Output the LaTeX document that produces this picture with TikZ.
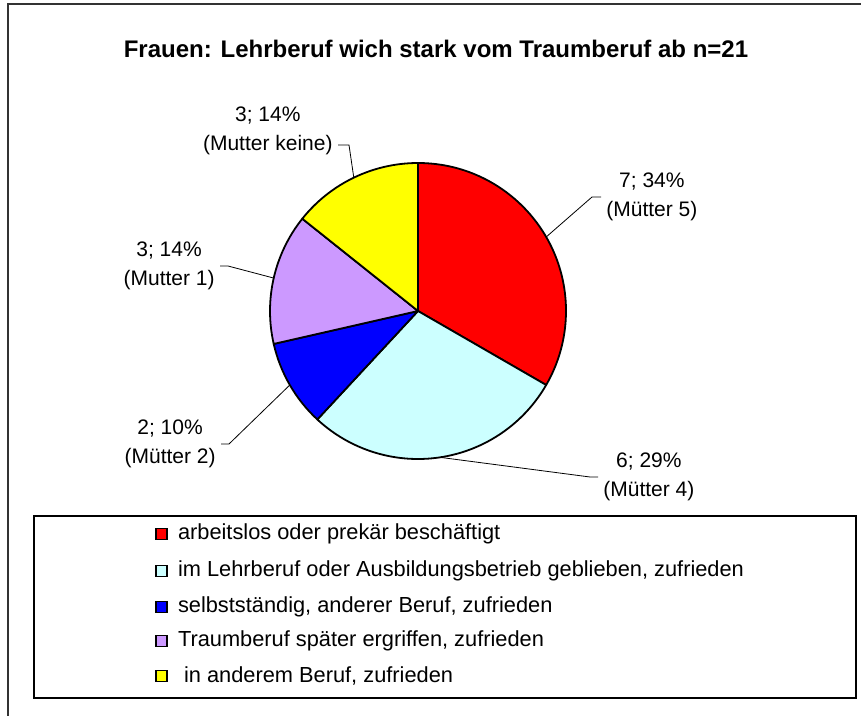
\documentclass[tikz,border=0pt]{standalone}
\usepackage{fontspec}
\setmainfont{Liberation Sans}
\usetikzlibrary{positioning}
\definecolor{sliceRed}{RGB}{255,0,0}
\definecolor{sliceCyan}{RGB}{204,255,255}
\definecolor{sliceBlue}{RGB}{0,0,255}
\definecolor{sliceLilac}{RGB}{204,153,255}
\definecolor{sliceYellow}{RGB}{255,255,0}
\tikzset{
  slice/.style={draw=black,line width=0.9pt,line join=round},
  leader/.style={draw=black,line width=0.4pt},
  pielabel/.style={font=\fontsize{10.5}{14.5}\selectfont,align=center,inner sep=2.5pt},
  legkey/.style={draw=black,line width=0.6pt,minimum size=5.5pt,inner sep=0pt},
  legtext/.style={font=\fontsize{10.9}{13}\selectfont,anchor=west,inner sep=0pt}
}
\begin{document}
\begin{tikzpicture}[x=0.5pt,y=-0.5pt]
        \useasboundingbox (0,0) rectangle (861,716);
        \clip (0,0) rectangle (861,716);
        \fill[white] (0,0) rectangle (861,716);
        \draw[black!80,line width=0.75pt] (8,4) rectangle (880,740);
        \node[font=\bfseries\fontsize{12}{14}\selectfont] (title) at (436,49)
          {Frauen: Lehrberuf wich stark vom Traumberuf ab n=21};
        % pie, clockwise from the top
        \coordinate (mid) at (418,311);
        \foreach \a/\b/\c in {90/-30/sliceRed, -30/-132.857/sliceCyan,
            -132.857/-167.143/sliceBlue, -167.143/-218.571/sliceLilac,
            -218.571/-270/sliceYellow}
          \filldraw[slice,fill=\c] (mid) -- ++(\a:74pt)
            arc[start angle=\a,end angle=\b,radius=74pt] -- cycle;
        \path (mid) ++(30:74pt) coordinate (p1)
              (mid) ++(-81.43:74pt) coordinate (p2)
              (mid) ++(-150:74pt) coordinate (p3)
              (mid) ++(167.14:74pt) coordinate (p4)
              (mid) ++(115.71:74pt) coordinate (p5);
        \coordinate (k1) at (592,197);
        \coordinate (k2) at (590,477);
        \coordinate (k3) at (229,444);
        \coordinate (k4) at (228,266);
        \coordinate (k5) at (349,145);
        \node[pielabel,anchor=west] (lab1) at (601,197) {7; 34\%\\(Mütter 5)};
        \node[pielabel,anchor=west] (lab2) at (598,477) {6; 29\%\\(Mütter 4)};
        \node[pielabel,anchor=east] (lab3) at (221,444) {2; 10\%\\(Mütter 2)};
        \node[pielabel,anchor=east] (lab4) at (220,266) {3; 14\%\\(Mutter 1)};
        \node[pielabel,anchor=east] (lab5) at (338,131) {3; 14\%\\(Mutter keine)};
        \draw[leader] (p1) -- (k1) -- (lab1.west);
        \draw[leader] (p2) -- (k2) -- (lab2.west);
        \draw[leader] (p3) -- (k3) -- (lab3.east);
        \draw[leader] (p4) -- (k4) -- (lab4.east);
        \draw[leader] (p5) -- (k5) -- (k5 -| lab5.east);
        % legend
        \draw[black,line width=0.6pt] (34,516) rectangle (856,698);
        \foreach \y/\c/\t [count=\i] in {534/sliceRed/{arbeitslos oder prekär beschäftigt},
            571/sliceCyan/{im Lehrberuf oder Ausbildungsbetrieb geblieben, zufrieden},
            607/sliceBlue/{selbstständig, anderer Beruf, zufrieden},
            641/sliceLilac/{Traumberuf später ergriffen, zufrieden},
            676/sliceYellow/{\ in anderem Beruf, zufrieden}}{
          \node[legkey,fill=\c] (key\i) at (161.5,\y) {};
          \node[legtext,right=5pt of key\i] (ent\i) {\t};
        }
\end{tikzpicture}
\end{document}
